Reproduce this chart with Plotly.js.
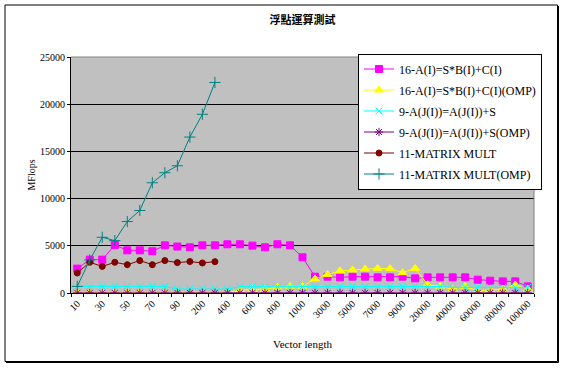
<!DOCTYPE html>
<html>
<head>
<meta charset="utf-8">
<script src="https://cdn.plot.ly/plotly-3.0.1.min.js"></script>
<style>html,body{margin:0;padding:0;background:#fff;}#chart{width:565px;height:368px;}</style>
</head>
<body>
<div id="chart"></div>
<script>
const categories = ['10','20','30','40','50','60','70','80','90','100',
  '200','300','400','500','600','700','800','900','1000',
  '2000','3000','4000','5000','6000','7000','8000','9000','10000',
  '20000','30000','40000','50000','60000','70000','80000','90000','100000'];
const tickLabels = ['10','','30','','50','','70','','90','',
  '200','','400','','600','','800','','1000',
  '','3000','','5000','','7000','','9000','',
  '20000','','40000','','60000','','80000','','100000'];

const seriesNames = ['16-A(I)=S*B(I)+C(I)','16-A(I)=S*B(I)+C(I)(OMP)','9-A(J(I))=A(J(I))+S',
  '9-A(J(I))=A(J(I))+S(OMP)','11-MATRIX MULT','11-MATRIX MULT(OMP)'];

const s16 = [2580,3530,3530,5090,4520,4520,4420,5050,4920,4840,
  5050,5050,5160,5160,5020,4840,5160,5050,3780,
  1730,1730,1660,1730,1730,1660,1660,1730,1550,
  1660,1660,1660,1660,1410,1300,1230,1230,700];
const s16omp = [30,30,30,30,30,30,30,30,30,40,
  60,60,60,320,380,420,600,700,700,
  1490,1970,2330,2440,2550,2610,2580,2150,2610,
  880,700,420,700,240,320,420,850,420];
const s9 = [700,700,700,700,700,700,700,700,420,420,
  420,420,420,670,670,670,670,670,670,
  670,670,670,670,670,670,690,690,690,
  690,690,600,600,600,600,600,600,600];
const s9omp = [10,10,10,10,10,10,10,10,10,10,
  10,10,10,10,10,10,10,10,10,
  10,10,10,10,10,10,10,10,10,
  10,10,10,10,10,10,10,10,10];
const mm = [2120,3250,2820,3250,3000,3430,3000,3430,3220,3330,3180,3320];
const mmOmp = [700,3500,5900,5550,7570,8740,11680,12740,13480,16520,18930,22300];

const colors = ['#FF00FF','#FFFF00','#00FFFF','#800080','#800000','#008080'];
const symbols = ['square','triangle-up','x-thin-open','asterisk-open','circle','cross-thin-open'];
const sizes = [7,8,7,7,6,8];
const ys = [s16, s16omp, s9, s9omp, mm, mmOmp];

const traces = ys.map((y, k) => ({
  type: 'scatter', mode: 'lines+markers',
  name: seriesNames[k], legendgroup: 'g' + k,
  x: categories.slice(0, y.length), y: y,
  line: {color: colors[k], width: 1},
  marker: {symbol: symbols[k], size: sizes[k], color: colors[k], line: {color: colors[k], width: 1}}
}));

const W = 463, H = 236, L = 71, B = 75;
function px(x){ return (x - L) / W; }
function py(y){ return (368 - B - y) / H; }

const layout = {
  width: 565, height: 368,
  margin: {l: L, r: 565 - L - W, t: 368 - B - H, b: B},
  paper_bgcolor: '#ffffff', plot_bgcolor: '#C0C0C0',
  font: {family: 'Liberation Serif, Times New Roman, serif', size: 10, color: '#000'},
  title: {text: '浮點運算測試', font: {family: 'Noto Sans CJK TC, sans-serif', size: 11, color: '#000', weight: 'bold'},
    x: 0.5, xref: 'paper', y: 1 - 20.5 / 368, yanchor: 'middle'},
  showlegend: true,
  legend: {x: px(358), xanchor: 'left', y: py(53.5), yanchor: 'top',
    bgcolor: '#ffffff', bordercolor: '#000', borderwidth: 1,
    font: {family: 'Liberation Serif, serif', size: 12, color: '#000'},
    traceorder: 'grouped', tracegroupgap: 2, itemwidth: 30},
  xaxis: {type: 'category', categoryorder: 'array', categoryarray: categories,
    tickmode: 'array', tickvals: categories, ticktext: tickLabels,
    tickson: 'boundaries', ticks: 'outside', ticklen: 3, tickcolor: '#000',
    tickangle: -45, tickfont: {size: 10},
    showgrid: false, showline: true, linecolor: '#000', linewidth: 1, zeroline: false,
    range: [-0.5, categories.length - 0.5],
    title: {text: 'Vector length', font: {size: 11}, standoff: 14}},
  yaxis: {range: [0, 25000], dtick: 5000, tick0: 0, tickformat: 'd',
    ticks: 'outside', ticklen: 3, tickcolor: '#000', tickfont: {size: 10},
    showgrid: true, gridcolor: '#000', gridwidth: 1,
    showline: true, linecolor: '#000', linewidth: 1, zeroline: false,
    title: {text: 'MFlops', font: {size: 10}, standoff: 2}},
  shapes: [
    {type: 'path', xref: 'paper', yref: 'paper', path: 'M 0 1 L 1 1 L 1 0',
      line: {color: '#808080', width: 1}, layer: 'above'},
    {type: 'rect', xref: 'paper', yref: 'paper', x0: px(5), x1: px(557.5), y0: py(361.5), y1: py(5),
      line: {color: '#000', width: 1}, layer: 'above'},
    {type: 'line', xref: 'paper', yref: 'paper', x0: px(558.5), x1: px(558.5), y0: py(362.5), y1: py(6),
      line: {color: '#000', width: 1}, layer: 'above'},
    {type: 'line', xref: 'paper', yref: 'paper', x0: px(6), x1: px(558.5), y0: py(362.5), y1: py(362.5),
      line: {color: '#000', width: 1}, layer: 'above'}
  ]
};

Plotly.newPlot('chart', traces, layout, {displayModeBar: false, staticPlot: true});
</script>
</body>
</html>
